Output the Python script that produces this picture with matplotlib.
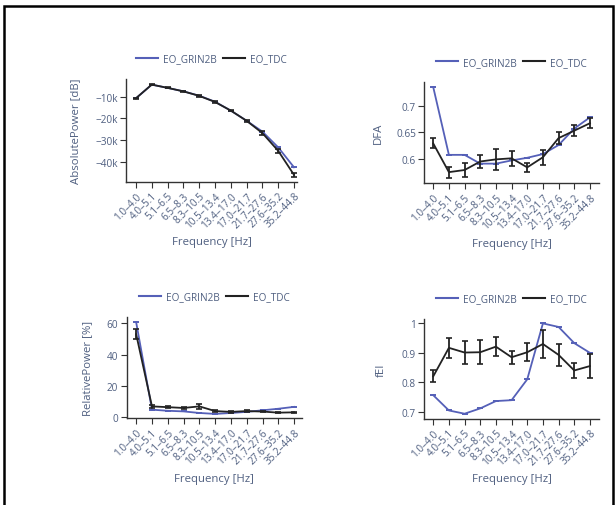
"""EEG band metrics, EO_GRIN2B vs EO_TDC (2x2 panels)."""
import numpy as np
import matplotlib
matplotlib.use('Agg')
import matplotlib.pyplot as plt
from matplotlib.patches import Rectangle
from matplotlib.lines import Line2D
from matplotlib.ticker import FuncFormatter

plt.rcParams['font.family'] = ['Open Sans', 'DejaVu Sans']

bands = ['1.0–4.0', '4.0–5.1', '5.1–6.5', '6.5–8.3', '8.3–10.5', '10.5–13.4',
         '13.4–17.0', '17.0–21.7', '21.7–27.6', '27.6–35.2', '35.2–44.8']

abs_grin = [-10700, -4400, -5900, -7500, -9500, -12300, -16400, -21100, -26100, -33400, -42600]
abs_grin_err = [0, 0, 0, 0, 0, 0, 0, 0, 0, 0, 0]
abs_tdc = [-10700, -4400, -5900, -7500, -9600, -12400, -16400, -21100, -26800, -35000, -46100]
abs_tdc_err = [300, 200, 200, 200, 300, 300, 400, 500, 900, 1000, 1000]

dfa_grin = [0.735, 0.6075, 0.6075, 0.591, 0.591, 0.597, 0.602, 0.609, 0.626, 0.657, 0.678]
dfa_grin_err = [0, 0, 0, 0, 0, 0, 0, 0, 0, 0, 0]
dfa_tdc = [0.629, 0.575, 0.579, 0.595, 0.599, 0.601, 0.584, 0.603, 0.639, 0.653, 0.667]
dfa_tdc_err = [0.0094, 0.0106, 0.0125, 0.013, 0.020, 0.014, 0.0084, 0.0137, 0.0113, 0.0106, 0.0094]

rel_grin = [60.6, 4.9, 4.2, 3.8, 2.8, 2.2, 2.8, 3.5, 4.5, 5.5, 6.7]
rel_grin_err = [0, 0, 0, 0, 0, 0, 0, 0, 0, 0, 0]
rel_tdc = [53.0, 7.0, 6.5, 6.0, 7.0, 4.0, 3.5, 4.0, 3.7, 3.0, 3.2]
rel_tdc_err = [3.2, 1.0, 0.6, 0.6, 1.5, 0.5, 0.5, 0.6, 0.5, 0.4, 0.4]

fei_grin = [0.756, 0.704, 0.693, 0.711, 0.736, 0.739, 0.81, 1.0, 0.988, 0.933, 0.9]
fei_grin_err = [0, 0, 0, 0, 0, 0, 0, 0, 0, 0, 0]
fei_tdc = [0.82, 0.917, 0.901, 0.902, 0.921, 0.885, 0.902, 0.93, 0.893, 0.84, 0.855]
fei_tdc_err = [0.02, 0.034, 0.039, 0.04, 0.032, 0.022, 0.03, 0.048, 0.038, 0.025, 0.04]

BLUE = '#5560b8'
BLACK = '#222222'
TXT = '#4f5f80'

W, H = 616, 506
fig = plt.figure(figsize=(W / 100, H / 100), dpi=100)

# outer frame (bottom edge falls off the image)
fig.add_artist(Rectangle((3.5 / W, -0.05), (612.5 - 3.5) / W, 1.05 - 6.5 / H,
                         transform=fig.transFigure, fill=False, lw=1.8,
                         edgecolor='black', clip_on=False))


def add_panel(px, ylabel, grin, grin_err, tdc, tdc_err, ylim, yticks, fmt,
              xlim, ylab_x):
    left, right, top, bottom = px
    ax = fig.add_axes([left / W, 1 - bottom / H, (right - left) / W, (bottom - top) / H])
    x = np.arange(len(bands))
    ax.errorbar(x, grin, yerr=grin_err, color=BLUE, lw=1.3, capsize=2.2,
                capthick=1.2, zorder=2)
    ax.errorbar(x, tdc, yerr=tdc_err, color=BLACK, lw=1.3, capsize=2.2,
                capthick=1.2, zorder=3)
    ax.set_xlim(*xlim)
    ax.set_ylim(*ylim)
    ax.set_yticks(yticks)
    ax.yaxis.set_major_formatter(FuncFormatter(fmt))
    ax.set_xticks(x)
    ax.set_xticklabels(bands, rotation=45, ha='right', rotation_mode='anchor')
    for s in ['top', 'right']:
        ax.spines[s].set_visible(False)
    for s in ['left', 'bottom']:
        ax.spines[s].set_color('#333333')
        ax.spines[s].set_linewidth(1.0)
    ax.tick_params(axis='both', labelsize=7.2, labelcolor=TXT, color='#333333',
                   length=4, width=0.8, pad=2)
    ax.set_ylabel(ylabel, fontsize=8.2, color=TXT)
    ax.yaxis.label.set_va('center')
    ax.yaxis.set_label_coords(ylab_x, 0.5)
    ax.set_xlabel('Frequency [Hz]', fontsize=8.2, color=TXT)
    ax.xaxis.label.set_va('center')
    ax.xaxis.set_label_coords(0.5, -(60.0 / (bottom - top)))
    handles = [Line2D([], [], color=BLUE, lw=1.5), Line2D([], [], color=BLACK, lw=1.5)]
    leg = ax.legend(handles, ['EO_GRIN2B', 'EO_TDC'], loc='center',
                    bbox_to_anchor=(0.5, 1 + 20.0 / (bottom - top)),
                    ncol=2, frameon=False, fontsize=7.2, handlelength=2.2,
                    columnspacing=0.6, handletextpad=0.5, borderaxespad=0)
    for t in leg.get_texts():
        t.set_color(TXT)
    return ax


def kfmt(v, _):
    return '−%dk' % abs(round(v / 1000)) if v < 0 else '%dk' % round(v / 1000)


def gfmt(v, _):
    return ('%g' % round(v, 3)).replace('-', '−')


add_panel((126, 297, 80, 183), 'AbsolutePower [dB]', abs_grin, abs_grin_err,
          abs_tdc, abs_tdc_err, (-49400, -1800), [-40000, -30000, -20000, -10000],
          kfmt, (-0.63, 10.19), -0.292)
add_panel((424.3, 598.7, 83.3, 184.3), 'DFA', dfa_grin, dfa_grin_err,
          dfa_tdc, dfa_tdc_err, (0.554, 0.744), [0.6, 0.65, 0.7],
          gfmt, (-0.57, 10.56), -0.265)
add_panel((126.7, 301.7, 317.7, 419.3), 'RelativePower [%]', rel_grin, rel_grin_err,
          rel_tdc, rel_tdc_err, (-0.6, 64.2), [0, 20, 40, 60],
          gfmt, (-0.6, 10.48), -0.221)
add_panel((424.3, 598.7, 320, 420), 'fEI', fei_grin, fei_grin_err,
          fei_tdc, fei_tdc_err, (0.675, 1.015), [0.7, 0.8, 0.9, 1.0],
          gfmt, (-0.57, 10.56), -0.248)

fig.savefig('out.png', dpi=100)
